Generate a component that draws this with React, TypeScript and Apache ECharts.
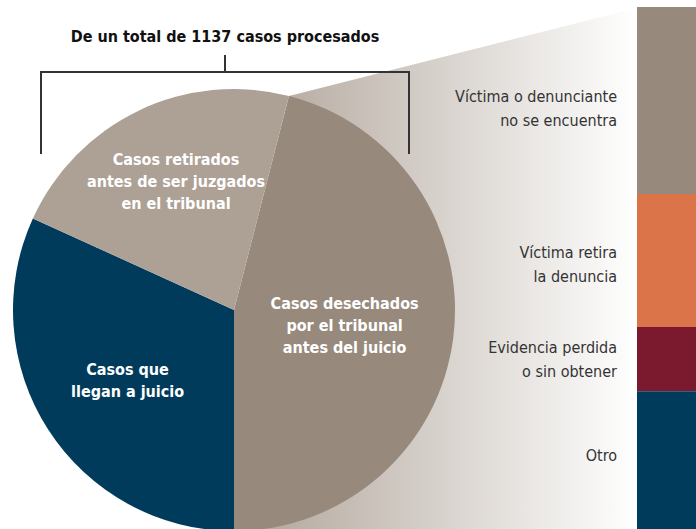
import React, { useEffect, useRef } from "react";
import * as echarts from "echarts";

const title = "De un total de 1137 casos procesados";
const pieNames = [
  "Casos desechados\npor el tribunal\nantes del juicio",
  "Casos que\nllegan a juicio",
  "Casos retirados\nantes de ser juzgados\nen el tribunal",
];
const pieValues = [46, 31.8, 22.2];
const pieColors = ["#978a7d", "#003b5c", "#ada196"];

const barNames = [
  "Víctima o denunciante\nno se encuentra",
  "Víctima retira\nla denuncia",
  "Evidencia perdida\no sin obtener",
  "Otro",
];
const barValues = [35.8, 25.5, 12.3, 26.4];
const barColors = ["#978a7d", "#dc7449", "#7b1a2e", "#003b5c"];

const FONT = "'Liberation Sans Narrow', 'DejaVu Sans Condensed', 'Roboto Condensed', Arial, sans-serif";

export default function App() {
  const ref = useRef<HTMLDivElement>(null);
  useEffect(() => {
    if (!ref.current) return;
    const chart = echarts.init(ref.current, null, { renderer: "svg" });
    const cx = 234, cy = 310, r = 221;
    const startDeg = 14.4;
    const a = (startDeg * Math.PI) / 180;
    const topPt = [cx + r * Math.sin(a), cy - r * Math.cos(a)];
    const pieShift = [
      [-2, 1],
      [-11, 9],
      [-9, -26],
    ];
    const barOffsets = [
      [0, 8],
      [0, 4],
      [0, 0],
      [0, -5],
    ];

    chart.setOption({
      animation: false,
      backgroundColor: "#ffffff",
      textStyle: { fontFamily: FONT },
      graphic: [
        {
          type: "polygon",
          z: 0,
          silent: true,
          shape: {
            points: [topPt, [637, 8], [637, 529], [cx, 529]],
          },
          style: {
            fill: new echarts.graphic.LinearGradient(0, 0, 1, 0, [
              { offset: 0, color: "#aea297" },
              { offset: 1, color: "#ffffff" },
            ]),
          },
        },
        {
          type: "text",
          z: 10,
          x: 225,
          y: 36,
          style: {
            text: title,
            fill: "#111",
            font: `bold 16px ${FONT}`,
            align: "center",
            verticalAlign: "middle",
          },
        },
        {
          type: "polyline",
          z: 10,
          shape: { points: [[41, 154], [41, 72], [409, 72], [409, 154]] },
          style: { stroke: "#333", lineWidth: 2, fill: null },
        },
        {
          type: "line",
          z: 10,
          shape: { x1: 225, y1: 55, x2: 225, y2: 72 },
          style: { stroke: "#333", lineWidth: 2 },
        },
      ],
      grid: { left: 637, right: 0, top: 7, bottom: 0 },
      xAxis: { type: "category", data: [""], show: false },
      yAxis: { type: "value", min: 0, max: 100, inverse: true, show: false },
      series: [
        {
          type: "pie",
          z: 5,
          center: [cx, cy],
          radius: r,
          startAngle: 90 - startDeg,
          clockwise: true,
          silent: true,
          label: {
            show: true,
            position: "inside",
            color: "#ffffff",
            fontFamily: FONT,
            fontWeight: "bold",
            fontSize: 16,
            lineHeight: 22,
            formatter: (p: any) => p.name,
          },
          labelLayout: (p: any) => ({
            dx: pieShift[p.dataIndex][0],
            dy: pieShift[p.dataIndex][1],
          }),
          labelLine: { show: false },
          itemStyle: { borderWidth: 0 },
          data: pieNames.map((n, i) => ({
            name: n,
            value: pieValues[i],
            itemStyle: { color: pieColors[i] },
          })),
        },
        ...barNames.map((n, i) => ({
          type: "bar",
          name: n,
          stack: "s",
          barWidth: "100%",
          silent: true,
          itemStyle: { color: barColors[i] },
          label: {
            show: true,
            position: "left",
            distance: 20,
            offset: barOffsets[i],
            color: "#333",
            fontFamily: FONT,
            fontSize: 16,
            lineHeight: 24,
            align: "right",
            formatter: () => n,
          },
          data: [barValues[i]],
        })),
      ],
    });
    return () => chart.dispose();
  }, []);
  return (
    <div
      ref={ref}
      style={{ position: "fixed", left: 0, top: 0, width: 696, height: 529 }}
    />
  );
}
